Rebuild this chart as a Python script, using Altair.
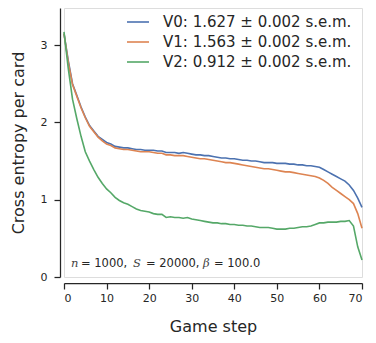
import altair as alt
import pandas as pd

steps = list(range(0, 71))

v0 = [3.15, 2.80, 2.50, 2.35, 2.20, 2.07, 1.96, 1.89, 1.82, 1.78,
      1.74, 1.72, 1.69, 1.68, 1.67, 1.67, 1.66, 1.65, 1.65, 1.64,
      1.64, 1.64, 1.63, 1.63, 1.61, 1.61, 1.61, 1.60, 1.61, 1.60,
      1.59, 1.58, 1.58, 1.57, 1.57, 1.56, 1.55, 1.54, 1.54, 1.53,
      1.53, 1.52, 1.51, 1.51, 1.50, 1.50, 1.49, 1.48, 1.48, 1.48,
      1.47, 1.47, 1.47, 1.46, 1.46, 1.45, 1.45, 1.44, 1.44, 1.43,
      1.42, 1.39, 1.36, 1.33, 1.30, 1.27, 1.24, 1.19, 1.12, 1.02,
      0.90]

v1 = [3.15, 2.78, 2.49, 2.34, 2.19, 2.06, 1.95, 1.88, 1.81, 1.76,
      1.72, 1.70, 1.67, 1.66, 1.65, 1.65, 1.64, 1.63, 1.62, 1.62,
      1.62, 1.61, 1.60, 1.60, 1.58, 1.58, 1.57, 1.57, 1.57, 1.56,
      1.55, 1.54, 1.53, 1.53, 1.52, 1.51, 1.50, 1.49, 1.48, 1.48,
      1.47, 1.46, 1.45, 1.44, 1.43, 1.42, 1.41, 1.40, 1.40, 1.39,
      1.38, 1.37, 1.36, 1.36, 1.35, 1.34, 1.33, 1.32, 1.31, 1.30,
      1.28, 1.25, 1.21, 1.16, 1.12, 1.08, 1.04, 1.00, 0.95, 0.82,
      0.63]

v2 = [3.17, 2.70, 2.30, 2.05, 1.82, 1.62, 1.50, 1.39, 1.29, 1.21,
      1.14, 1.09, 1.03, 0.99, 0.96, 0.94, 0.91, 0.88, 0.86, 0.85,
      0.84, 0.82, 0.81, 0.81, 0.77, 0.78, 0.77, 0.77, 0.76, 0.77,
      0.75, 0.74, 0.73, 0.72, 0.71, 0.70, 0.70, 0.69, 0.69, 0.68,
      0.68, 0.67, 0.67, 0.66, 0.66, 0.65, 0.64, 0.64, 0.64, 0.63,
      0.62, 0.62, 0.62, 0.63, 0.63, 0.64, 0.65, 0.65, 0.66, 0.68,
      0.70, 0.70, 0.71, 0.71, 0.71, 0.72, 0.72, 0.73, 0.66, 0.39,
      0.22]

labels = ["V0: 1.627 \u00b1 0.002 s.e.m.",
          "V1: 1.563 \u00b1 0.002 s.e.m.",
          "V2: 0.912 \u00b1 0.002 s.e.m."]
colors = ["#4C72B0", "#DD8452", "#55A868"]

rows = []
for lab, vals in zip(labels, [v0, v1, v2]):
    for s, v in zip(steps, vals):
        rows.append({"step": s, "ce": v, "series": lab})
df = pd.DataFrame(rows)

TXT = "#262626"

lines = alt.Chart(df).mark_line(strokeWidth=1.6).encode(
    x=alt.X("step:Q", scale=alt.Scale(domain=[0, 70], nice=False),
            axis=alt.Axis(title="Game step", values=list(range(0, 71, 10)),
                          grid=False, offset=6, tickSize=6, labelPadding=3,
                          titlePadding=15, titleFontSize=16, titleFontWeight="normal",
                          labelFontSize=11, labelColor=TXT, titleColor=TXT,
                          domainColor=TXT, tickColor=TXT, domainWidth=1.25,
                          tickWidth=1.25, labelFont="DejaVu Sans", titleFont="DejaVu Sans")),
    y=alt.Y("ce:Q", scale=alt.Scale(domain=[0, 3.48], nice=False),
            axis=alt.Axis(title="Cross entropy per card", values=[0, 1, 2, 3],
                          grid=False, offset=4, tickSize=6, labelPadding=7,
                          titlePadding=14, titleFontSize=16, titleFontWeight="normal",
                          labelFontSize=11, labelColor=TXT, titleColor=TXT,
                          domainColor=TXT, tickColor=TXT, domainWidth=1.25,
                          tickWidth=1.25, labelFont="DejaVu Sans", titleFont="DejaVu Sans")),
    color=alt.Color("series:N", scale=alt.Scale(domain=labels, range=colors),
                    legend=alt.Legend(title=None, orient="none", legendX=62, legendY=2,
                                      symbolType="stroke", symbolSize=484,
                                      symbolStrokeWidth=1.6, labelFontSize=15,
                                      labelColor=TXT, labelFont="DejaVu Sans",
                                      labelOffset=13, rowPadding=0, padding=0,
                                      labelLimit=400)),
)

ann_txt = ["n", "= 1000,", "S", "= 20000,", "\u03b2", "= 100.0"]
ann_x = [7, 17, 69, 82, 139, 150]
ann_style = ["italic", "normal", "italic", "normal", "italic", "normal"]

ann_layers = []
for t, px, st in zip(ann_txt, ann_x, ann_style):
    ann_layers.append(
        alt.Chart(pd.DataFrame({"t": [t]})).mark_text(
            align="left", baseline="alphabetic", fontSize=11.5,
            font="DejaVu Serif" if st == "italic" else "DejaVu Sans",
            fontStyle=st, color="#444444" if st == "italic" else TXT
        ).encode(x=alt.value(px), y=alt.value(259), text="t:N")
    )

chart = alt.layer(lines, *ann_layers).properties(
    width=298, height=269,
    padding={"left": 56, "top": 0, "right": 6, "bottom": 58},
    autosize=alt.AutoSizeParams(type="none"),
).configure_view(strokeWidth=0, stroke=None).configure(background="white")

chart.save("out.html", embed_options={"renderer": "svg", "actions": False})
